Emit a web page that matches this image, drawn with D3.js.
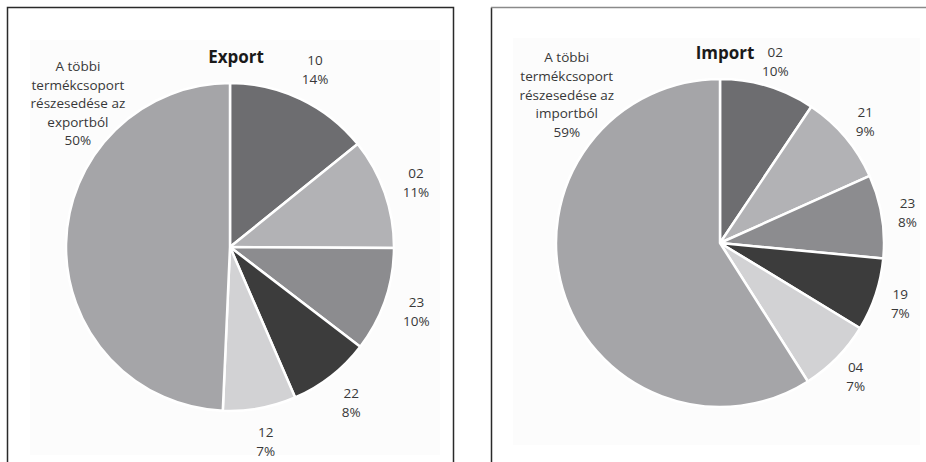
<!DOCTYPE html>
<html>
<head>
<meta charset="utf-8">
<script src="https://cdn.jsdelivr.net/npm/d3@7"></script>
<style>
  body { margin: 0; background: #fff; }
  svg { display: block; }
</style>
</head>
<body>
<svg id="chart" width="926" height="462"></svg>
<script>
// export shares (clockwise from 12 o'clock)
const exportCodes = ["10", "02", "23", "22", "12", "A többi termékcsoport részesedése az exportból"];
const exportValues = [14.2, 10.9, 10.3, 8.1, 7.2, 49.3];
const exportPct = ["14%", "11%", "10%", "8%", "7%", "50%"];

// import shares
const importCodes = ["02", "21", "23", "19", "04", "A többi termékcsoport részesedése az importból"];
const importValues = [9.4, 8.9, 8.2, 7.2, 7.3, 59.0];
const importPct = ["10%", "9%", "8%", "7%", "7%", "59%"];

const restLines = {
  export: ["A többi", "termékcsoport", "részesedése az", "exportból"],
  import: ["A többi", "termékcsoport", "részesedése az", "importból"],
};

const fills = ["#6d6d70", "#b2b2b5", "#8c8c8f", "#3c3c3c", "#d2d2d4", "#a5a5a8"];

const svg = d3.select("#chart");
const font = '"Open Sans", "DejaVu Sans", sans-serif';

// panel frames
svg.append("rect").attr("x", 30).attr("y", 40).attr("width", 410).attr("height", 415).attr("fill", "#fcfcfc");
svg.append("path")
  .attr("d", "M7.5,462V7.5H453.5V462")
  .attr("fill", "none").attr("stroke", "#2a2a2a").attr("stroke-width", 1.5);
svg.append("rect").attr("x", 513).attr("y", 38).attr("width", 407).attr("height", 407).attr("fill", "#fcfcfc");
svg.append("path")
  .attr("d", "M491.5,462V7.5")
  .attr("fill", "none").attr("stroke", "#2a2a2a").attr("stroke-width", 1.5);
svg.append("line").attr("x1", 491).attr("x2", 926).attr("y1", 7.5).attr("y2", 7.5)
  .attr("stroke", "#8a8a8a").attr("stroke-width", 1.5);

function pieChart(g, title, codes, values, pct, rest, opts) {
  const r = 164;
  const pie = d3.pie().sort(null).value((d) => d);
  const arcs = pie(values);
  const arc = d3.arc().innerRadius(0).outerRadius(r);
  const labelArc = d3.arc().innerRadius(opts.labelR).outerRadius(opts.labelR);

  g.selectAll("path.slice")
    .data(arcs)
    .enter()
    .append("path")
    .attr("class", "slice")
    .attr("d", arc)
    .attr("fill", (d, i) => fills[i])
    .attr("stroke", "#fff")
    .attr("stroke-width", 2.5)
    .attr("stroke-linejoin", "round");

  g.append("text")
    .attr("x", opts.titleX)
    .attr("y", -r - 20)
    .attr("text-anchor", "middle")
    .attr("font-family", font)
    .attr("font-weight", "bold")
    .attr("font-size", 17)
    .attr("fill", "#1a1a1a")
    .text(title);

  const small = arcs.slice(0, 5);
  const labels = g.selectAll("g.lbl")
    .data(small)
    .enter()
    .append("g")
    .attr("class", "lbl")
    .attr("transform", (d) => `translate(${labelArc.centroid(d)})`);
  labels.append("text")
    .attr("y", -4)
    .text((d, i) => codes[i]);
  labels.append("text")
    .attr("y", 15)
    .text((d, i) => pct[i]);
  labels.selectAll("text")
    .attr("text-anchor", "middle")
    .attr("font-family", font)
    .attr("font-size", 13.5)
    .attr("fill", "#383838");

  // best-fit label of the big slice, placed at the upper left
  const a = opts.restAngle;
  const rr = opts.restR;
  const rg = g.append("g")
    .attr("transform", `translate(${rr * Math.sin(a)},${-rr * Math.cos(a)})`);
  rg.selectAll("text")
    .data(rest.concat([pct[5]]))
    .enter()
    .append("text")
    .attr("y", (d, i) => (i - 2) * 18.6 + 4.5)
    .attr("text-anchor", "middle")
    .attr("font-family", font)
    .attr("font-size", 13.5)
    .attr("fill", "#383838")
    .text((d) => d);
}

pieChart(
  svg.append("g").attr("transform", "translate(230,247)"),
  "Export", exportCodes, exportValues, exportPct, restLines.export,
  { labelR: 197, titleX: 6, restAngle: (-46.7 * Math.PI) / 180, restR: 209 }
);
pieChart(
  svg.append("g").attr("transform", "translate(720,243)"),
  "Import", importCodes, importValues, importPct, restLines.import,
  { labelR: 190, titleX: 5, restAngle: (-46 * Math.PI) / 180, restR: 213 }
);
</script>
</body>
</html>
